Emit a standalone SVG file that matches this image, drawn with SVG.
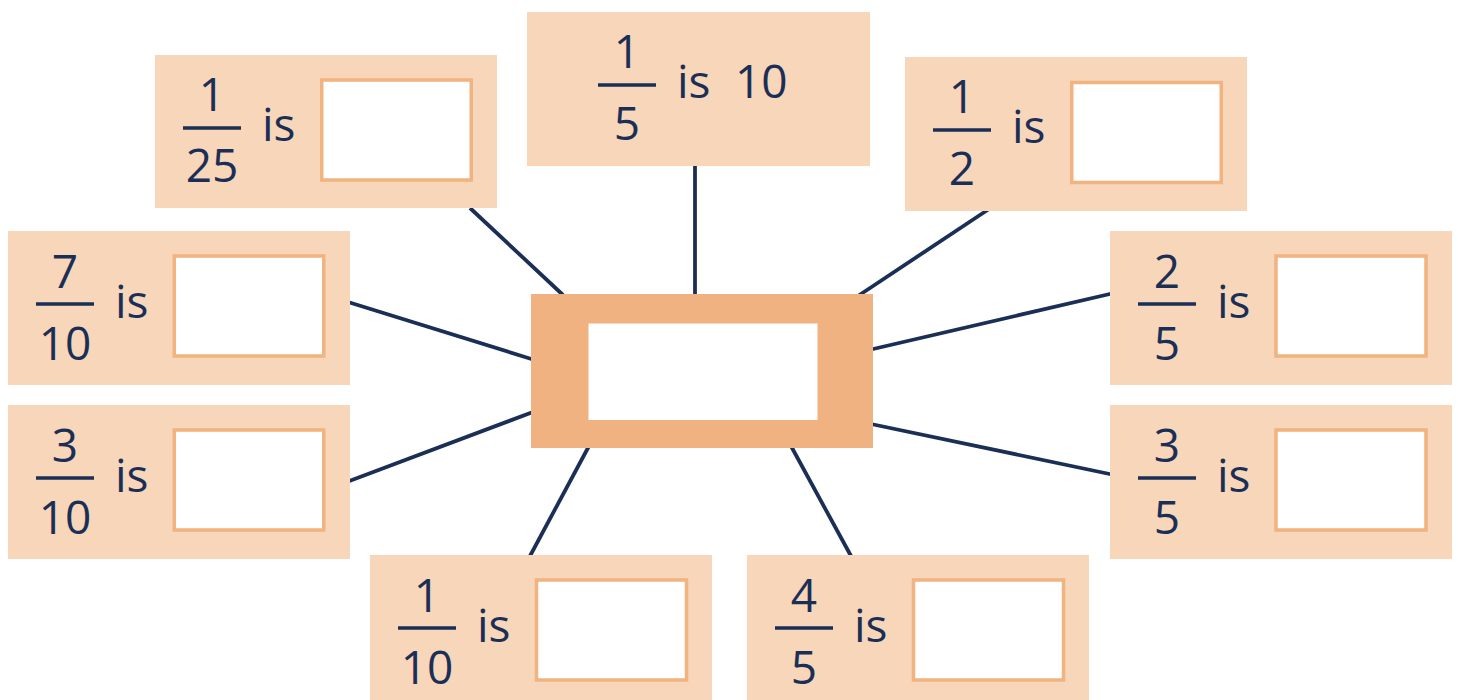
<svg xmlns="http://www.w3.org/2000/svg" width="1458" height="700" viewBox="0 0 1458 700">
<style>
.bg{fill:#f7d6ba}
.box{fill:#ffffff;stroke:#f1b380;stroke-width:3.5}
.t{font-family:"Open Sans","Noto Sans","Liberation Sans",sans-serif;font-size:46px;font-weight:500;fill:#1b2f56}
.c{text-anchor:middle}
.bar{stroke:#1b2f56;stroke-width:3.5}
.conn line{stroke:#1b2f56;stroke-width:3.8}
</style>
<rect width="1458" height="700" fill="#ffffff"/>
<g id="connectors" class="conn">
<line x1="470" y1="208" x2="563" y2="295"/>
<line x1="695" y1="164" x2="695" y2="296"/>
<line x1="989" y1="209" x2="858" y2="296"/>
<line x1="348" y1="302" x2="533" y2="359.5"/>
<line x1="348" y1="481.5" x2="533" y2="412"/>
<line x1="871" y1="349.5" x2="1112" y2="293.5"/>
<line x1="871" y1="424" x2="1112" y2="474.5"/>
<line x1="589" y1="446" x2="530" y2="556"/>
<line x1="791" y1="446" x2="851" y2="556"/>
</g>
<g id="center">
<rect x="531" y="294" width="342" height="154" fill="#f0b281"/>
<rect x="588.5" y="323.5" width="229" height="96.5" fill="#ffffff"/>
</g>
<g id="n-1-5">
<rect class="bg" x="527" y="12" width="343" height="154"/>
<line class="bar" x1="598" y1="85" x2="656" y2="85"/>
<text class="t c" x="627" y="68">1</text>
<text class="t c" x="627" y="140">5</text>
<text class="t" x="677" y="98">is <tspan x="735">10</tspan></text>
</g>
<g id="n-1-25" transform="translate(155,55)">
<rect class="bg" width="342" height="153"/>
<line class="bar" x1="28" y1="73" x2="86" y2="73"/>
<text class="t c" x="57" y="56">1</text>
<text class="t c" x="57" y="127">25</text>
<text class="t" x="107" y="86">is</text>
<rect class="box" x="166.75" y="25" width="149.5" height="100"/>
</g>
<g id="n-1-2" transform="translate(905,57)">
<rect class="bg" width="342" height="154"/>
<line class="bar" x1="28" y1="73" x2="86" y2="73"/>
<text class="t c" x="57" y="56">1</text>
<text class="t c" x="57" y="128">2</text>
<text class="t" x="107" y="86">is</text>
<rect class="box" x="166.75" y="25.5" width="149.5" height="100"/>
</g>
<g id="n-7-10" transform="translate(8,231)">
<rect class="bg" width="342" height="154"/>
<line class="bar" x1="28" y1="73" x2="86" y2="73"/>
<text class="t c" x="57" y="57">7</text>
<text class="t c" x="57" y="129">10</text>
<text class="t" x="107" y="87">is</text>
<rect class="box" x="166.25" y="25" width="149.5" height="100"/>
</g>
<g id="n-3-10" transform="translate(8,405)">
<rect class="bg" width="342" height="154"/>
<line class="bar" x1="28" y1="73" x2="86" y2="73"/>
<text class="t c" x="57" y="57">3</text>
<text class="t c" x="57" y="129">10</text>
<text class="t" x="107" y="87">is</text>
<rect class="box" x="166.25" y="25" width="149.5" height="100"/>
</g>
<g id="n-2-5" transform="translate(1110,231)">
<rect class="bg" width="342" height="154"/>
<line class="bar" x1="28" y1="73" x2="86" y2="73"/>
<text class="t c" x="57" y="57">2</text>
<text class="t c" x="57" y="129">5</text>
<text class="t" x="107" y="87">is</text>
<rect class="box" x="166" y="25" width="150" height="100"/>
</g>
<g id="n-3-5" transform="translate(1110,405)">
<rect class="bg" width="342" height="154"/>
<line class="bar" x1="28" y1="73" x2="86" y2="73"/>
<text class="t c" x="57" y="57">3</text>
<text class="t c" x="57" y="129">5</text>
<text class="t" x="107" y="87">is</text>
<rect class="box" x="166" y="25" width="150" height="100"/>
</g>
<g id="n-1-10" transform="translate(370,555)">
<rect class="bg" width="342" height="154"/>
<line class="bar" x1="28" y1="73" x2="86" y2="73"/>
<text class="t c" x="57" y="57">1</text>
<text class="t c" x="57" y="129">10</text>
<text class="t" x="107" y="87">is</text>
<rect class="box" x="166.5" y="25" width="150" height="100"/>
</g>
<g id="n-4-5" transform="translate(747,555)">
<rect class="bg" width="342" height="154"/>
<line class="bar" x1="28" y1="73" x2="86" y2="73"/>
<text class="t c" x="57" y="57">4</text>
<text class="t c" x="57" y="129">5</text>
<text class="t" x="107" y="87">is</text>
<rect class="box" x="166.5" y="25" width="150" height="100"/>
</g>
</svg>
